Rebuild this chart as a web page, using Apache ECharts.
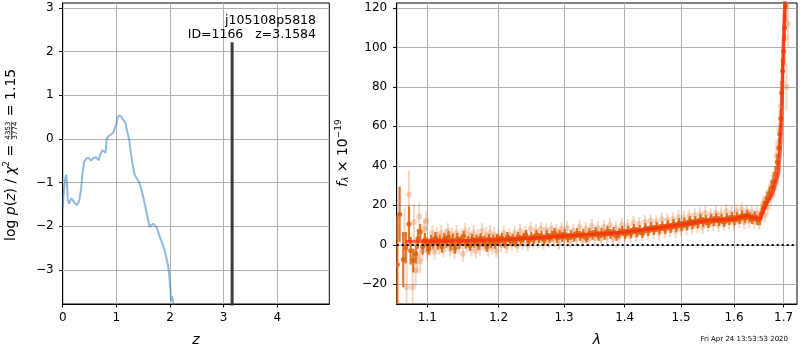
<!DOCTYPE html>
<html><head><meta charset="utf-8">
<script src="https://cdn.jsdelivr.net/npm/echarts@6/dist/echarts.min.js"></script>
<style>html,body{margin:0;padding:0;background:#fff}#c{width:800px;height:350px}</style>
</head><body><div id="c"></div>
<script>
// ---------- left panel: log p(z) ----------
const zVals = [0.0,0.02,0.05,0.065,0.08,0.095,0.12,0.16,0.19,0.22,0.27,0.31,0.34,0.37,0.40,0.45,0.49,0.53,0.57,0.62,0.67,0.70,0.74,0.77,0.80,0.82,0.85,0.90,0.94,0.97,1.00,1.02,1.05,1.09,1.13,1.17,1.20,1.24,1.27,1.31,1.34,1.38,1.42,1.46,1.50,1.54,1.58,1.62,1.65,1.68,1.71,1.75,1.78,1.82,1.86,1.90,1.93,1.97,1.98,2.01,2.02,2.035,2.05,2.065,2.08];
const logP  = [-1.6,-1.2,-0.88,-0.82,-1.0,-1.4,-1.48,-1.36,-1.36,-1.46,-1.52,-1.4,-1.17,-0.78,-0.52,-0.44,-0.44,-0.5,-0.44,-0.42,-0.49,-0.36,-0.26,-0.28,-0.32,0.0,0.06,0.1,0.14,0.18,0.33,0.48,0.54,0.51,0.43,0.37,0.18,-0.02,-0.32,-0.63,-0.82,-0.9,-0.98,-1.13,-1.32,-1.55,-1.78,-2.02,-2.05,-1.94,-1.92,-2.02,-2.13,-2.28,-2.4,-2.54,-2.71,-2.94,-3.05,-3.48,-3.72,-3.6,-3.58,-3.75,-4.2];
const zBest = 3.1584;
const zBestPeak = 2.21;
const zFloor = -10;
const zTicks = [0,1,2,3,4];
const lpTicks = [-3,-2,-1,0,1,2,3];

// ---------- right panel: spectrum ----------
// [lambda, flux, err]
const darkPts = [
[1.0605,-10,25],[1.0635,15.5,14],[1.0682,-7.5,14],[1.0715,-1.5,8],[1.0757,10.5,9],[1.0779,-3,7],[1.0813,-8,6],[1.0847,-4.5,5],[1.0876,3,5],[1.0906,6.5,4],[1.0939,-1,4],[1.097,2.5,3.5],[1.100,0,3.5],
[1.102,-2,3],[1.105,2,3],[1.108,1,3],[1.111,3.5,3],[1.114,0.5,3],[1.117,2,3],[1.120,-1,3],[1.123,3,3],[1.126,1.5,3],[1.129,4,3],[1.132,0,3],[1.135,2.5,3],[1.138,-1.5,3],[1.141,3,3],[1.144,1,3],[1.147,2,2.5],[1.150,4.5,2.5],[1.153,0.5,2.5],[1.156,2,2.5],[1.159,-0.5,2.5],[1.162,3,2.5],[1.165,1,2.5],[1.168,2.5,2.5],[1.171,0,2.5],[1.174,3.5,2.5],[1.177,1.5,2.5],[1.180,2,2.5],[1.183,-1,2.5],[1.186,3,2.5],[1.189,1,2.5],[1.192,2.5,2.5],[1.195,0.5,2.5],[1.198,3,2.5],
[1.201,2,2.5],[1.205,3.5,2.5],[1.209,1,2.5],[1.213,4,2.5],[1.217,2,2.5],[1.221,3,2.5],[1.225,1.5,2.5],[1.229,4,2.5],[1.233,2.5,2.5],[1.237,3.5,2.5],[1.241,5,2.5],[1.245,2,2.5],[1.249,4,2.5],[1.253,3,2.5],[1.257,5,2.5],[1.261,3.5,2.5],[1.265,4.5,2.5],[1.269,2.5,2.5],[1.273,5,2.5],[1.277,3.5,2.5],[1.281,4.5,2.5],[1.285,6,2.5],[1.289,3.5,2.5],[1.293,5,2.5],[1.297,4,2.5],
[1.301,5.5,2.5],[1.306,3.5,2.5],[1.311,5,2.5],[1.316,4,2.5],[1.321,6,2.5],[1.326,4.5,2.5],[1.331,5.5,2.5],[1.336,3.5,2.5],[1.341,6,2.5],[1.346,5,2.5],[1.351,6.5,2.5],[1.356,4.5,2.5],[1.361,6,2.5],[1.366,5,2.5],[1.371,7,2.5],[1.376,5.5,2.5],[1.381,6.5,2.5],[1.386,4.5,2.5],[1.391,6,2.5],[1.396,7,2.5],
[1.401,5.5,2.5],[1.406,7,2.5],[1.411,6,2.5],[1.416,8,2.5],[1.421,6.5,2.5],[1.426,7.5,2.5],[1.431,6,2.5],[1.436,8.5,2.5],[1.441,7,2.5],[1.446,9,2.5],[1.451,7.5,2.5],[1.456,9,2.5],[1.461,8,2.5],[1.466,9.5,2.5],[1.471,8,2.5],[1.476,10,2.5],[1.481,8.5,2.5],[1.486,10.5,2.5],[1.491,9,2.5],[1.496,11,2.5],
[1.501,9.5,2.5],[1.506,11,2.5],[1.511,10,2.5],[1.516,12,2.5],[1.521,10.5,2.5],[1.526,12,2.5],[1.531,11,2.5],[1.536,13,2.5],[1.541,11.5,2.5],[1.546,12.5,2.5],[1.551,11,2.5],[1.556,13,2.5],[1.561,12,2.5],[1.566,13.5,2.5],[1.571,12,2.5],[1.576,13,2.5],[1.581,11.5,2.5],[1.586,13.5,2.5],[1.591,12.5,2.5],[1.596,14,2.5],
[1.601,12.5,2.5],[1.606,14,2.5],[1.611,13,2.5],[1.616,15,2.5],[1.621,13.5,2.5],[1.626,15,2.5],[1.631,14,2.5],[1.636,13,2.5],[1.641,14.5,2.5],[1.646,12.5,2.5],[1.651,13,3],[1.655,16,3],[1.659,19,3],[1.663,21,3],[1.667,24,3],[1.671,26,3],[1.675,29,3.5],[1.679,32,3.5],[1.683,36,4],[1.687,42,4],[1.690,49,5],[1.692,56,5],[1.694,64,5],[1.696,77,6],[1.698,88,6],[1.700,98,7],[1.702,110,7],[1.704,121,8]
];
const lightPts = [
[1.0726,-21.5,20],[1.0757,25.5,12],[1.0806,-21.5,16],[1.070,5,14],[1.0824,11.5,9],[1.0845,-13,8],[1.0865,-6,8],[1.0893,14.3,7],[1.0905,-8.5,6],[1.0935,-3,5],[1.0960,8,5],[1.0985,12,5],[1.100,-3,5],
[1.104,-2,4],[1.107,6,4],[1.110,-3.5,4],[1.113,5,4],[1.116,-1,4],[1.119,6,4],[1.122,-2.5,4],[1.125,4,4],[1.128,7,4],[1.131,-2,4],[1.134,5,4],[1.137,-3,4],[1.140,6,4],[1.143,-1,4],[1.146,4,4],[1.149,-4.5,4],[1.152,7,4],[1.155,0,4],[1.158,5,4],[1.161,-2,4],[1.164,6,4],[1.167,-3,4],[1.170,4,4],[1.173,-1.5,4],[1.176,7,4],[1.179,1,4],[1.182,5,4],[1.185,-2,4],[1.188,6,4],[1.191,-1,4],[1.194,5,4],[1.197,-3,3.5],
[1.200,4,3.5],[1.204,0,3.5],[1.208,6,3.5],[1.212,-1,3.5],[1.216,5,3.5],[1.220,0.5,3.5],[1.224,6,3.5],[1.228,-0.5,3.5],[1.232,7,3.5],[1.236,1,3.5],[1.240,6,3.5],[1.244,0,3.5],[1.248,8,3.5],[1.252,1.5,3.5],[1.256,7,3.5],[1.260,2,3.5],[1.264,8,3.5],[1.268,1,3.5],[1.272,7.5,3.5],[1.276,2,3.5],[1.280,8,3.5],[1.284,2.5,3.5],[1.288,7,3.5],[1.292,1,3.5],[1.296,8,3.5],
[1.300,3,3.5],[1.305,8.5,3.5],[1.310,2,3.5],[1.315,7,3.5],[1.320,3,3.5],[1.325,9,3.5],[1.330,2.5,3.5],[1.335,8,3.5],[1.340,3,3.5],[1.345,9.5,3.5],[1.350,3.5,3.5],[1.355,8.5,3.5],[1.360,3,3.5],[1.365,9,3.5],[1.370,4,3.5],[1.375,10,3.5],[1.380,3.5,3.5],[1.385,8.5,3.5],[1.390,4,3.5],[1.395,10,3.5],
[1.400,5,3.5],[1.405,9.5,3.5],[1.410,4.5,3.5],[1.415,11,3.5],[1.420,5,3.5],[1.425,10.5,3.5],[1.430,5.5,3.5],[1.435,11.5,3.5],[1.440,6,3.5],[1.445,12,3.5],[1.450,6.5,3.5],[1.455,11.5,3.5],[1.460,6,3.5],[1.465,13,3.5],[1.470,7,3.5],[1.475,12.5,3.5],[1.480,7.5,3.5],[1.485,13,3.5],[1.490,7,3.5],[1.495,14,3.5],
[1.500,8,3.5],[1.505,13.5,3.5],[1.510,8.5,3.5],[1.515,14.5,3.5],[1.520,9,3.5],[1.525,15,3.5],[1.530,9.5,3.5],[1.535,15.5,3.5],[1.540,9,3.5],[1.545,16,3.5],[1.550,10,3.5],[1.555,15,3.5],[1.560,10.5,3.5],[1.565,16,3.5],[1.570,10,3.5],[1.575,15.5,3.5],[1.580,11,3.5],[1.585,17,3.5],[1.590,11.5,3.5],[1.595,16,3.5],
[1.600,11,3.5],[1.605,17,3.5],[1.610,12,3.5],[1.615,18,3.5],[1.620,11.5,3.5],[1.625,17,3.5],[1.630,12,3.5],[1.635,16.5,3.5],[1.640,11.5,3.5],[1.645,16,3.5],[1.650,11,3.5],[1.655,17,4],[1.658,21,4],[1.661,15,4],[1.664,23,4],[1.667,19,4],[1.670,27,4],[1.673,24,4],[1.677,32,5],[1.681,29,5],[1.685,45,8],[1.688,38,8],[1.691,58,10],[1.694,70,10],[1.697,82,12],[1.699,93,12],[1.703,105,15],[1.706,80,12],[1.709,112,12]
];
const modelLam = [1.071,1.10,1.15,1.20,1.25,1.30,1.35,1.40,1.45,1.50,1.55,1.60,1.625,1.638,1.651,1.665,1.677,1.689,1.693,1.696,1.698,1.701,1.703];
const modelF   = [1.6,1.8,2.0,2.5,3.3,4.4,5.4,6.4,8.2,10.3,12.3,13.1,14.8,13.8,13.1,20.8,25.8,36,47.6,64,90,113,125];
const lamTicks = [1.1,1.2,1.3,1.4,1.5,1.6,1.7];
const fTicks = [-20,0,20,40,60,80,100,120];

const FONT = '"DejaVu Sans", sans-serif';
const minus = v => (v < 0 ? '\u2212' + Math.abs(v) : String(v));

function errRender(r, color, op, lw) {
  return function (params, api) {
    const x = api.value(0), y = api.value(1), e = api.value(2);
    const p = api.coord([x, y]);
    const lo = api.coord([x, y - e]);
    const hi = api.coord([x, y + e]);
    return {
      type: 'group',
      children: [
        { type: 'line', shape: { x1: p[0], y1: lo[1], x2: p[0], y2: hi[1] }, style: { stroke: color, lineWidth: lw, opacity: op } },
        { type: 'circle', shape: { cx: p[0], cy: p[1], r: r }, style: { fill: color, opacity: op } }
      ]
    };
  };
}

// math-like rotated label built from text pieces
const mctx = document.createElement('canvas').getContext('2d');
function tw(s, font) { mctx.font = font; return mctx.measureText(s).width; }
function mathLabel(pieces, ox, oy) {
  let x = 0;
  const children = [];
  pieces.forEach(p => {
    const font = (p.italic ? 'italic ' : '') + p.size + 'px ' + FONT;
    if (p.num) {
      const w = Math.max(tw(p.num, font), tw(p.den, font)) + 2;
      children.push({ type: 'text', x: x + w / 2, y: p.ny, style: { text: p.num, font, fill: '#000', align: 'center', textAlign: 'center', verticalAlign: 'middle', textVerticalAlign: 'middle' } });
      children.push({ type: 'text', x: x + w / 2, y: p.dy2, style: { text: p.den, font, fill: '#000', align: 'center', textAlign: 'center', verticalAlign: 'middle', textVerticalAlign: 'middle' } });
      children.push({ type: 'line', shape: { x1: x + 1, y1: p.by, x2: x + w - 1, y2: p.by }, style: { stroke: '#000', lineWidth: 0.7 } });
      x += w;
    } else {
      children.push({ type: 'text', x: x, y: p.dy || 0, style: { text: p.t, font, fill: '#000', align: 'left', textAlign: 'left', verticalAlign: 'middle', textVerticalAlign: 'middle' } });
      x += tw(p.t, font);
    }
  });
  return { type: 'group', x: ox, y: oy, rotation: Math.PI / 2, children };
}

const leftLabel = mathLabel([
  { t: 'log ', size: 14 },
  { t: 'p', size: 14, italic: true },
  { t: '(', size: 14 },
  { t: 'z', size: 14, italic: true },
  { t: ') / ', size: 14 },
  { t: '\u03c7', size: 14, italic: true },
  { t: '2', size: 8, dy: -4.5 },
  { t: ' = ', size: 14 },
  { num: '4353', den: '3774', size: 7, ny: -3.6, dy2: 3.0, by: -0.3 },
  { t: ' = 1.15', size: 14 }
], 11.7, 241);

const rightLabel = mathLabel([
  { t: 'f', size: 14, italic: true },
  { t: '\u03bb', size: 9, italic: true, dy: 3 },
  { t: ' \u00d7 10', size: 14 },
  { t: '\u221219', size: 9, dy: -4.5 }
], 343, 187);

const axisCommon = {
  axisLine: { show: true, onZero: false, lineStyle: { color: '#000', width: 1 } },
  axisTick: { show: true, inside: false, length: 3.5, lineStyle: { color: '#000', width: 1 } },
  axisLabel: { color: '#000', fontSize: 12, fontFamily: FONT, margin: 8 },
  splitLine: { show: true, lineStyle: { color: '#b0b0b0', width: 1 } }
};
function ax(extra) {
  const o = JSON.parse(JSON.stringify(axisCommon));
  for (const k in extra) {
    if (typeof extra[k] === 'object' && o[k] && !Array.isArray(extra[k])) Object.assign(o[k], extra[k]);
    else o[k] = extra[k];
  }
  return o;
}

const chart = echarts.init(document.getElementById('c'), null, { renderer: 'canvas' });
chart.setOption({
  animation: false,
  backgroundColor: '#fff',
  grid: [
    { left: 62.7, top: 3, width: 266.6, height: 301, show: true, borderColor: '#000', borderWidth: 1, backgroundColor: 'transparent', containLabel: false, outerBoundsMode: 'none' },
    { left: 396.7, top: 3, width: 400.3, height: 301, show: true, borderColor: '#000', borderWidth: 1, backgroundColor: 'transparent', containLabel: false, outerBoundsMode: 'none' }
  ],
  xAxis: [
    ax({ type: 'value', gridIndex: 0, min: 0, max: 4.97,
      axisTick: { customValues: zTicks }, axisLabel: { customValues: zTicks, formatter: v => minus(v) },
      name: 'z', nameLocation: 'middle', nameGap: 29,
      nameTextStyle: { fontFamily: FONT, fontSize: 14, fontStyle: 'italic', color: '#000' } }),
    ax({ type: 'log', logBase: 10, gridIndex: 1, min: 1.0597, max: 1.728,
      axisTick: { customValues: lamTicks }, axisLabel: { customValues: lamTicks, formatter: v => (+v).toFixed(1) },
      name: '\u03bb', nameLocation: 'middle', nameGap: 29,
      nameTextStyle: { fontFamily: FONT, fontSize: 14, fontStyle: 'italic', color: '#000' } })
  ],
  yAxis: [
    ax({ type: 'value', gridIndex: 0, min: -3.78, max: 3.11,
      axisTick: { customValues: lpTicks }, axisLabel: { customValues: lpTicks, formatter: v => minus(v), margin: 9 } }),
    ax({ type: 'value', gridIndex: 1, min: -30, max: 122.5,
      axisTick: { customValues: fTicks }, axisLabel: { customValues: fTicks, formatter: v => minus(v), margin: 9.5 } })
  ],
  graphic: [
    leftLabel,
    rightLabel,
    { type: 'text', x: 316, y: 21.2, style: { text: 'j105108p5818', font: '12.5px ' + FONT, fill: '#000', align: 'right', textAlign: 'right', verticalAlign: 'middle', textVerticalAlign: 'middle' }, z: 100 },
    { type: 'text', x: 316, y: 35, style: { text: 'ID=1166   z=3.1584', font: '12.5px ' + FONT, fill: '#000', align: 'right', textAlign: 'right', verticalAlign: 'middle', textVerticalAlign: 'middle' }, z: 100 },
    { type: 'text', x: 788, y: 339, style: { text: 'Fri Apr 24 13:53:53 2020', font: '7px ' + FONT, fill: '#000', align: 'right', textAlign: 'right', verticalAlign: 'middle', textVerticalAlign: 'middle' } }
  ],
  series: [
    { type: 'line', xAxisIndex: 0, yAxisIndex: 0, data: zVals.map((z, i) => [z, logP[i]]), showSymbol: false, symbol: 'none', clip: true,
      lineStyle: { color: '#1f77b4', width: 2, opacity: 0.5 }, silent: true, z: 3 },
    { type: 'line', xAxisIndex: 0, yAxisIndex: 0, data: [[zBest, zBestPeak], [zBest, zFloor]], showSymbol: false, symbol: 'none', clip: true,
      lineStyle: { color: '#333', width: 3, opacity: 0.95 }, silent: true, z: 4 },
    { type: 'custom', xAxisIndex: 1, yAxisIndex: 1, data: lightPts, renderItem: errRender(3, '#e06010', 0.25, 2), encode: { x: 0, y: 1 }, clip: true, silent: true, z: 2 },
    { type: 'custom', xAxisIndex: 1, yAxisIndex: 1, data: darkPts, renderItem: errRender(2.5, '#d9620a', 0.85, 2.2), encode: { x: 0, y: 1 }, clip: true, silent: true, z: 3 },
    { type: 'line', xAxisIndex: 1, yAxisIndex: 1, data: modelLam.map((l, i) => [l, modelF[i]]), showSymbol: false, symbol: 'none', clip: true,
      lineStyle: { color: '#ff2a0a', width: 3.5, opacity: 0.75 }, silent: true, z: 5,
      markLine: { silent: true, symbol: ['none', 'none'], label: { show: false }, animation: false,
        lineStyle: { color: '#000', width: 2, type: [2, 3] }, emphasis: { disabled: true }, data: [{ yAxis: 0 }] } }
  ]
});
</script>
</body></html>
